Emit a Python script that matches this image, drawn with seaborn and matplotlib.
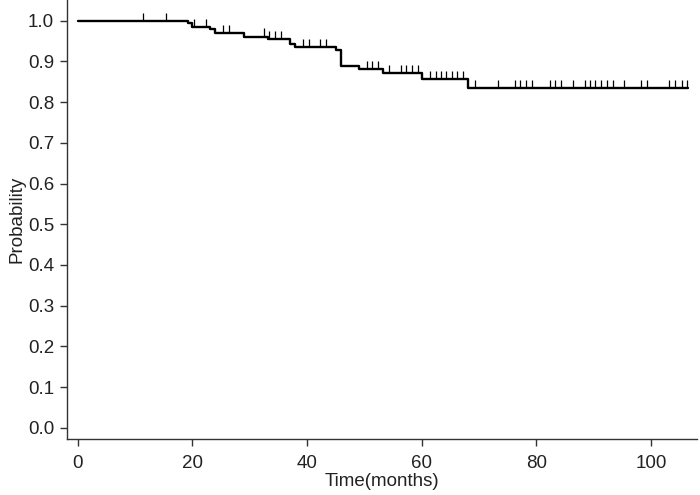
import numpy as np
import pandas as pd
import matplotlib
matplotlib.use("Agg")
import matplotlib.pyplot as plt
import seaborn as sns

# Kaplan-Meier step data (time in months, survival probability)
event_times = [0.0, 19.3, 20.0, 23.0, 24.0, 29.0, 33.1, 37.0, 37.9, 45.0,
               46.0, 49.1, 53.2, 60.0, 68.0, 106.4]
survival = [1.0, 0.995, 0.985, 0.979, 0.969, 0.961, 0.954, 0.944, 0.935, 0.928,
            0.889, 0.881, 0.871, 0.857, 0.835, 0.835]

# censored observations (months)
censor_times = [11.3, 15.4, 20.3, 22.4, 25.3, 26.3, 32.4, 33.4, 34.4, 35.4,
                39.3, 40.3, 42.3, 43.3, 50.4, 51.4, 52.4, 54.3, 56.4, 57.3,
                58.3, 59.3, 61.4, 62.4, 63.4, 64.3, 65.3, 66.2, 67.2, 69.2,
                73.3, 76.3, 77.2, 78.2, 79.2, 82.3, 83.3, 84.3, 86.4, 88.4,
                89.3, 90.3, 91.3, 92.3, 93.3, 95.2, 98.3, 99.3, 103.2, 104.2,
                105.3, 106.3]

x_ticks = [0, 20, 40, 60, 80, 100]
y_ticks = [0.0, 0.1, 0.2, 0.3, 0.4, 0.5, 0.6, 0.7, 0.8, 0.9, 1.0]

sns.set_style("ticks")
plt.rcParams["font.family"] = ["Liberation Sans", "DejaVu Sans"]

fig = plt.figure(figsize=(7.0, 4.95), dpi=100)
ax = fig.add_axes([0.0953, 0.1125, 0.9004, 0.8875])

df = pd.DataFrame({"time": event_times, "surv": survival})
sns.lineplot(data=df, x="time", y="surv", ax=ax, color="black",
             linewidth=1.7, drawstyle="steps-post", estimator=None)

# censor marks
et = np.array(event_times)
sv = np.array(survival)
ct = np.array(censor_times)
idx = np.searchsorted(et, ct, side="right") - 1
cs = sv[idx]
ax.vlines(ct, cs, cs + 0.02, color="black", linewidth=0.9)

ax.set_xlim(-1.92, 108.0)
ax.set_ylim(-0.0285, 1.051)
ax.set_xticks(x_ticks)
ax.set_yticks(y_ticks)
ax.set_yticklabels([f"{v:.1f}" for v in y_ticks])
ax.set_xticklabels([str(v) for v in x_ticks])

for side in ["left", "bottom"]:
    ax.spines[side].set_color("#333333")
    ax.spines[side].set_linewidth(1.0)
ax.spines["top"].set_visible(False)
ax.spines["right"].set_visible(False)

ax.tick_params(axis="both", direction="out", length=5, width=1.0,
               color="#333333", labelsize=13.5, labelcolor="#222222")
ax.tick_params(axis="x", pad=6)
ax.tick_params(axis="y", pad=4)

ax.set_xlabel("Time(months)", fontsize=13.5, color="#222222", labelpad=1)
ax.set_ylabel("Probability", fontsize=13.5, color="#222222", labelpad=2)

fig.savefig("out.png", dpi=100)
